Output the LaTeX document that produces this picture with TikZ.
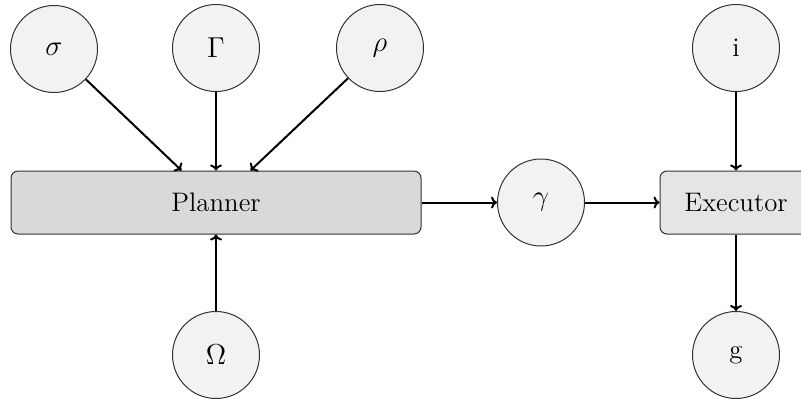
\documentclass[tikz,border=0pt]{standalone}
\usetikzlibrary{arrows.meta}
\begin{document}
\begin{tikzpicture}[x=0.5pt,y=-0.5pt,
  every node/.style={font=\fontsize{13.4}{16}\selectfont},
  var/.style={circle,draw=black!80,line width=0.5pt,fill=black!5,minimum size=43.5pt,inner sep=0pt},
  planbox/.style={rectangle,rounded corners=3.5pt,draw=black!80,line width=0.5pt,fill=black!15,minimum width=205pt,minimum height=31.5pt,inner sep=0pt},
  execbox/.style={rectangle,rounded corners=3.5pt,draw=black!80,line width=0.5pt,fill=black!10,minimum width=76pt,minimum height=31.5pt,inner sep=0pt},
  conn/.style={-{To[length=3pt,width=6pt]},line width=1pt}]
\useasboundingbox (0,0) rectangle (801,401);
\node[var] (sigma) at (54,49) {$\sigma$};
\node[var] (Gam) at (216,48) {$\Gamma$};
\node[var] (rho) at (380,48) {$\rho$};
\node[planbox] (plan) at (216,202.5) {Planner};
\node[var] (Om) at (216,355) {$\Omega$};
\node[var] (gam) at (541,202.5) {$\gamma$};
\node[execbox] (exec) at (736,202.5) {Executor};
\node[var] (i) at (736,48) {i};
\node[var] (g) at (736,355) {g};
\coordinate (pl) at ([xshift=-17.25pt]plan.north);
\coordinate (pr) at ([xshift=17.25pt]plan.north);
\draw[conn] (sigma) -- (pl);
\draw[conn] (Gam) -- (plan.north);
\draw[conn] (rho) -- (pr);
\draw[conn] (Om) -- (plan.south);
\draw[conn] (plan.east) -- (gam);
\draw[conn] (gam) -- (exec.west);
\draw[conn] (i) -- (exec.north);
\draw[conn] (exec.south) -- (g);
\end{tikzpicture}
\end{document}
